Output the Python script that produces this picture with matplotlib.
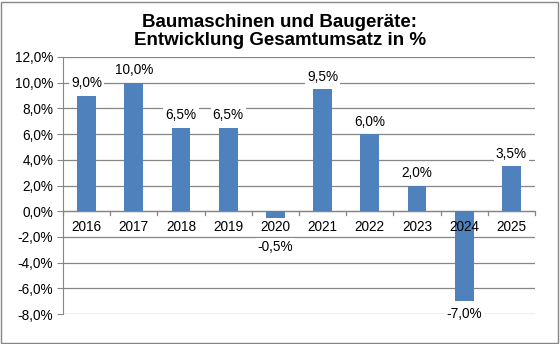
import matplotlib.pyplot as plt
from matplotlib.patches import Rectangle

plt.rcParams['font.family'] = ['Liberation Sans', 'DejaVu Sans']

years = ['2016', '2017', '2018', '2019', '2020', '2021', '2022', '2023', '2024', '2025']
growth = [9.0, 10.0, 6.5, 6.5, -0.5, 9.5, 6.0, 2.0, -7.0, 3.5]
yticks = [-8, -6, -4, -2, 0, 2, 4, 6, 8, 10, 12]

bar_color = '#4F81BD'
grid_color = '#868686'


def pct(v):
    return f'{v:.1f}%'.replace('.', ',')


fig = plt.figure(figsize=(5.6, 3.44), dpi=100)
ax = fig.add_axes([63 / 560, 1 - 314 / 344, 472 / 560, 257 / 344])

x = list(range(len(years)))
ax.bar(x, growth, width=0.4, color=bar_color, zorder=2)

ax.set_xlim(-0.5, len(years) - 0.5)
ax.set_ylim(-8, 12)
ax.set_yticks(yticks)
ax.set_yticklabels([pct(v) for v in yticks], fontsize=9.8)
ax.yaxis.grid(True, color=grid_color, linewidth=0.9, zorder=0)
ax.set_axisbelow(True)

for s in ['top', 'right', 'bottom']:
    ax.spines[s].set_visible(False)
ax.spines['left'].set_color(grid_color)
ax.tick_params(axis='y', length=4, color=grid_color, pad=3)

# category axis sits on the zero line
ax.axhline(0, color=grid_color, linewidth=0.9, zorder=1)
ax.set_xticks([])
for b in [i - 0.5 for i in range(len(years) + 1)]:
    ax.plot([b, b], [0, -0.3], color=grid_color, linewidth=0.9, zorder=1, clip_on=False)
for i, yr in enumerate(years):
    ax.annotate(yr, (i, 0), xytext=(0, -6), textcoords='offset points',
                ha='center', va='top', fontsize=9.8, zorder=4)

# data labels
box = dict(boxstyle='square,pad=0.15', fc='white', ec='none')
for i, v in enumerate(growth):
    if v >= 0:
        off, va = 4, 'bottom'
    elif v > -2:
        off, va = -16, 'top'
    else:
        off, va = -4, 'top'
    ax.annotate(pct(v), (i, v), xytext=(0, off), textcoords='offset points',
                ha='center', va=va, fontsize=9.8, bbox=box, zorder=5)

fig.text(0.5, 1 - 14 / 344, 'Baumaschinen und Baugeräte:\nEntwicklung Gesamtumsatz in %',
         ha='center', va='top', fontsize=13.5, fontweight='bold', linespacing=1.1)

fig.patches.append(Rectangle((1 / 560, 1 / 344), 557 / 560, 341 / 344, transform=fig.transFigure,
                             fill=False, edgecolor=grid_color, linewidth=1))

fig.savefig('out.png', dpi=100)
